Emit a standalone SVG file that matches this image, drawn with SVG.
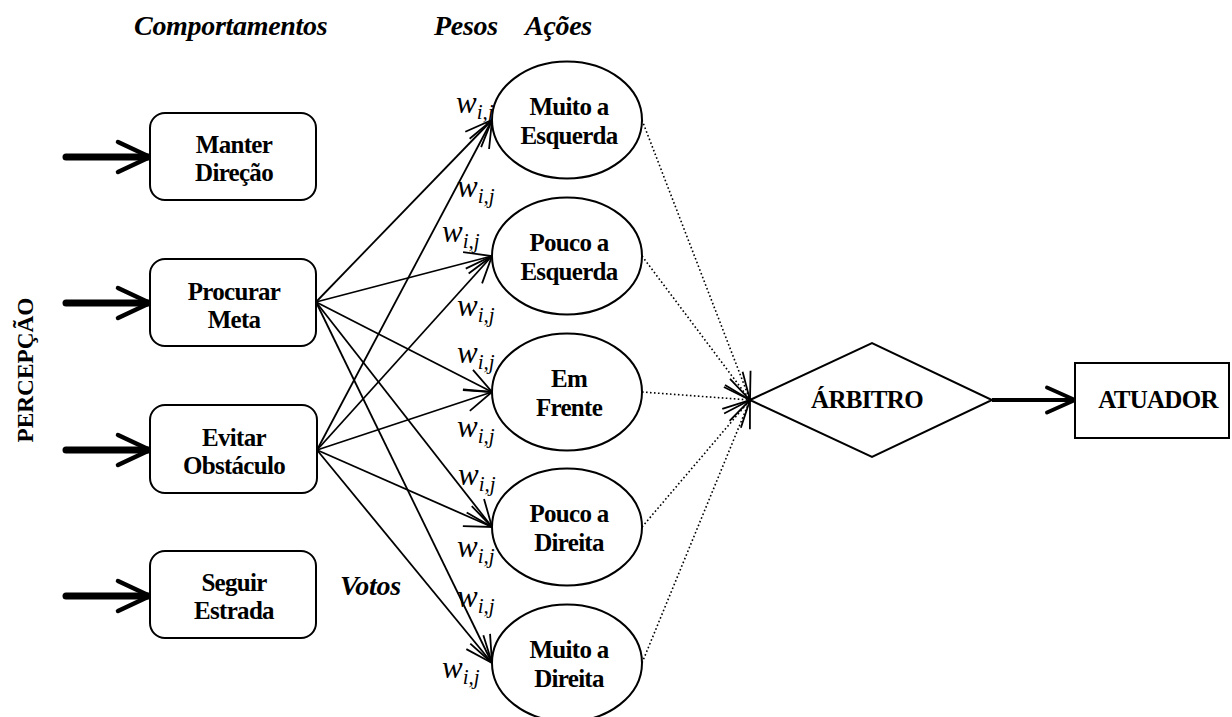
<svg xmlns="http://www.w3.org/2000/svg" width="1232" height="717" viewBox="0 0 1232 717">
  <style>
    text { font-family: "Liberation Serif", "Times New Roman", serif; fill: #000; }
    .title { font-size: 28px; font-weight: bold; font-style: italic; letter-spacing: -0.3px; }
    .lbl { font-size: 25px; font-weight: bold; text-anchor: middle; letter-spacing: -0.7px; }
    .box { fill: #fff; stroke: #000; stroke-width: 2; }
    .act { fill: #fff; stroke: #000; stroke-width: 2; }
    .in { stroke: #000; stroke-width: 7; stroke-linecap: round; fill: none; }
    .vote { stroke: #000; stroke-width: 1.8; fill: none; }
    .dot { stroke: #000; stroke-width: 1.6; stroke-dasharray: 1.6 2.4; fill: none; }
    .out { stroke: #000; stroke-width: 4; fill: none; }
    .w { font-size: 31px; font-style: italic; }
    .w tspan { font-size: 21px; }
  </style>
  <defs>
    <marker id="vee" markerUnits="userSpaceOnUse" refX="0" refY="0" markerWidth="40" markerHeight="40" orient="auto" overflow="visible">
      <path d="M-27,-11 L0,0 L-27,11" fill="none" stroke="#000" stroke-width="1.8" stroke-dasharray="none"/>
    </marker>
    <marker id="bigvee" markerUnits="userSpaceOnUse" refX="0" refY="0" markerWidth="40" markerHeight="40" orient="auto" overflow="visible">
      <path d="M-30,-15 L2,0 L-30,15" fill="none" stroke="#000" stroke-width="4.5" stroke-linecap="round" stroke-linejoin="round"/>
    </marker>
    <marker id="outvee" markerUnits="userSpaceOnUse" refX="0" refY="0" markerWidth="40" markerHeight="40" orient="auto" overflow="visible">
      <path d="M-27,-12.5 L1,0 L-27,12.5" fill="none" stroke="#000" stroke-width="4" stroke-linecap="round" stroke-linejoin="round"/>
    </marker>
  </defs>

  <rect width="1232" height="717" fill="#fff"/>

  <!-- column headings -->
  <g id="headings">
    <text class="title" x="134" y="35">Comportamentos</text>
    <text class="title" x="434" y="35">Pesos</text>
    <text class="title" x="525" y="35">Ações</text>
    <text class="title" x="340" y="595" font-size="26" letter-spacing="-1">Votos</text>
    <text x="0" y="0" font-size="24" font-weight="bold" text-anchor="middle" textLength="145" lengthAdjust="spacingAndGlyphs" transform="translate(33,370) rotate(-90)">PERCEPÇÃO</text>
  </g>

  <!-- connectors -->
  <g id="connectors">
    <!-- perception inputs -->
    <line class="in" x1="66" y1="157" x2="148" y2="157" marker-end="url(#bigvee)"/>
    <line class="in" x1="66" y1="303" x2="148" y2="303" marker-end="url(#bigvee)"/>
    <line class="in" x1="66" y1="450" x2="148" y2="450" marker-end="url(#bigvee)"/>
    <line class="in" x1="66" y1="596" x2="148" y2="596" marker-end="url(#bigvee)"/>
    <!-- votes from Procurar Meta -->
    <line class="vote" x1="316" y1="302" x2="492" y2="120" marker-end="url(#vee)"/>
    <line class="vote" x1="316" y1="302" x2="492" y2="256" marker-end="url(#vee)"/>
    <line class="vote" x1="316" y1="302" x2="492" y2="392" marker-end="url(#vee)"/>
    <line class="vote" x1="316" y1="302" x2="492" y2="527" marker-end="url(#vee)"/>
    <line class="vote" x1="316" y1="302" x2="492" y2="663" marker-end="url(#vee)"/>
    <!-- votes from Evitar Obstáculo -->
    <line class="vote" x1="317" y1="450" x2="492" y2="120" marker-end="url(#vee)"/>
    <line class="vote" x1="317" y1="450" x2="492" y2="256" marker-end="url(#vee)"/>
    <line class="vote" x1="317" y1="450" x2="492" y2="392" marker-end="url(#vee)"/>
    <line class="vote" x1="317" y1="450" x2="492" y2="527" marker-end="url(#vee)"/>
    <line class="vote" x1="317" y1="450" x2="492" y2="663" marker-end="url(#vee)"/>
    <!-- actions to arbiter -->
    <line class="dot" x1="642" y1="120" x2="750" y2="400" marker-end="url(#vee)"/>
    <line class="dot" x1="642" y1="256" x2="750" y2="400" marker-end="url(#vee)"/>
    <line class="dot" x1="642" y1="392" x2="750" y2="400" marker-end="url(#vee)"/>
    <line class="dot" x1="642" y1="527" x2="750" y2="400" marker-end="url(#vee)"/>
    <line class="dot" x1="642" y1="663" x2="750" y2="400" marker-end="url(#vee)"/>
    <!-- arbiter to actuator -->
    <line class="out" x1="992" y1="400" x2="1074" y2="400" marker-end="url(#outvee)"/>
  </g>

  <!-- weight labels -->
  <g id="weights">
    <text class="w" x="456" y="113">w<tspan dy="6">i,j</tspan></text>
    <text class="w" x="457" y="197">w<tspan dy="6">i,j</tspan></text>
    <text class="w" x="442" y="242">w<tspan dy="6">i,j</tspan></text>
    <text class="w" x="457" y="316">w<tspan dy="6">i,j</tspan></text>
    <text class="w" x="457" y="363">w<tspan dy="6">i,j</tspan></text>
    <text class="w" x="457" y="437">w<tspan dy="6">i,j</tspan></text>
    <text class="w" x="458" y="485">w<tspan dy="6">i,j</tspan></text>
    <text class="w" x="457" y="557">w<tspan dy="6">i,j</tspan></text>
    <text class="w" x="457" y="607">w<tspan dy="6">i,j</tspan></text>
    <text class="w" x="442" y="678">w<tspan dy="6">i,j</tspan></text>
  </g>

  <!-- behaviours -->
  <g id="manter-direcao">
    <rect class="box" x="150" y="113" width="166" height="87" rx="15"/>
    <text class="lbl" x="234" y="153">Manter</text>
    <text class="lbl" x="234" y="181">Direção</text>
  </g>
  <g id="procurar-meta">
    <rect class="box" x="150" y="259" width="166" height="87" rx="15"/>
    <text class="lbl" x="234" y="299.5">Procurar</text>
    <text class="lbl" x="234" y="327.5">Meta</text>
  </g>
  <g id="evitar-obstaculo">
    <rect class="box" x="150" y="405" width="167" height="88" rx="15"/>
    <text class="lbl" x="234" y="445.5">Evitar</text>
    <text class="lbl" x="234" y="473.5">Obstáculo</text>
  </g>
  <g id="seguir-estrada">
    <rect class="box" x="150" y="551" width="166" height="87" rx="15"/>
    <text class="lbl" x="234" y="591">Seguir</text>
    <text class="lbl" x="234" y="619">Estrada</text>
  </g>

  <!-- actions -->
  <g id="muito-esquerda">
    <ellipse class="act" cx="567" cy="120" rx="75" ry="58.5"/>
    <text class="lbl" x="569" y="115">Muito a</text>
    <text class="lbl" x="569" y="144">Esquerda</text>
  </g>
  <g id="pouco-esquerda">
    <ellipse class="act" cx="567" cy="256" rx="75" ry="58.5"/>
    <text class="lbl" x="569" y="251">Pouco a</text>
    <text class="lbl" x="569" y="280">Esquerda</text>
  </g>
  <g id="em-frente">
    <ellipse class="act" cx="567" cy="392" rx="75" ry="58.5"/>
    <text class="lbl" x="569" y="387">Em</text>
    <text class="lbl" x="569" y="416">Frente</text>
  </g>
  <g id="pouco-direita">
    <ellipse class="act" cx="567" cy="527" rx="75" ry="58.5"/>
    <text class="lbl" x="569" y="522">Pouco a</text>
    <text class="lbl" x="569" y="551">Direita</text>
  </g>
  <g id="muito-direita">
    <ellipse class="act" cx="567" cy="663" rx="75" ry="58.5"/>
    <text class="lbl" x="569" y="658">Muito a</text>
    <text class="lbl" x="569" y="687">Direita</text>
  </g>

  <!-- arbiter -->
  <g id="arbitro">
    <polygon class="box" points="750,400 872,343 992,400 872,457"/>
    <text class="lbl" x="867" y="408" font-size="21">ÁRBITRO</text>
  </g>

  <!-- actuator -->
  <g id="atuador">
    <rect class="box" x="1075" y="363" width="154" height="75"/>
    <text class="lbl" x="1158" y="408">ATUADOR</text>
  </g>
</svg>
